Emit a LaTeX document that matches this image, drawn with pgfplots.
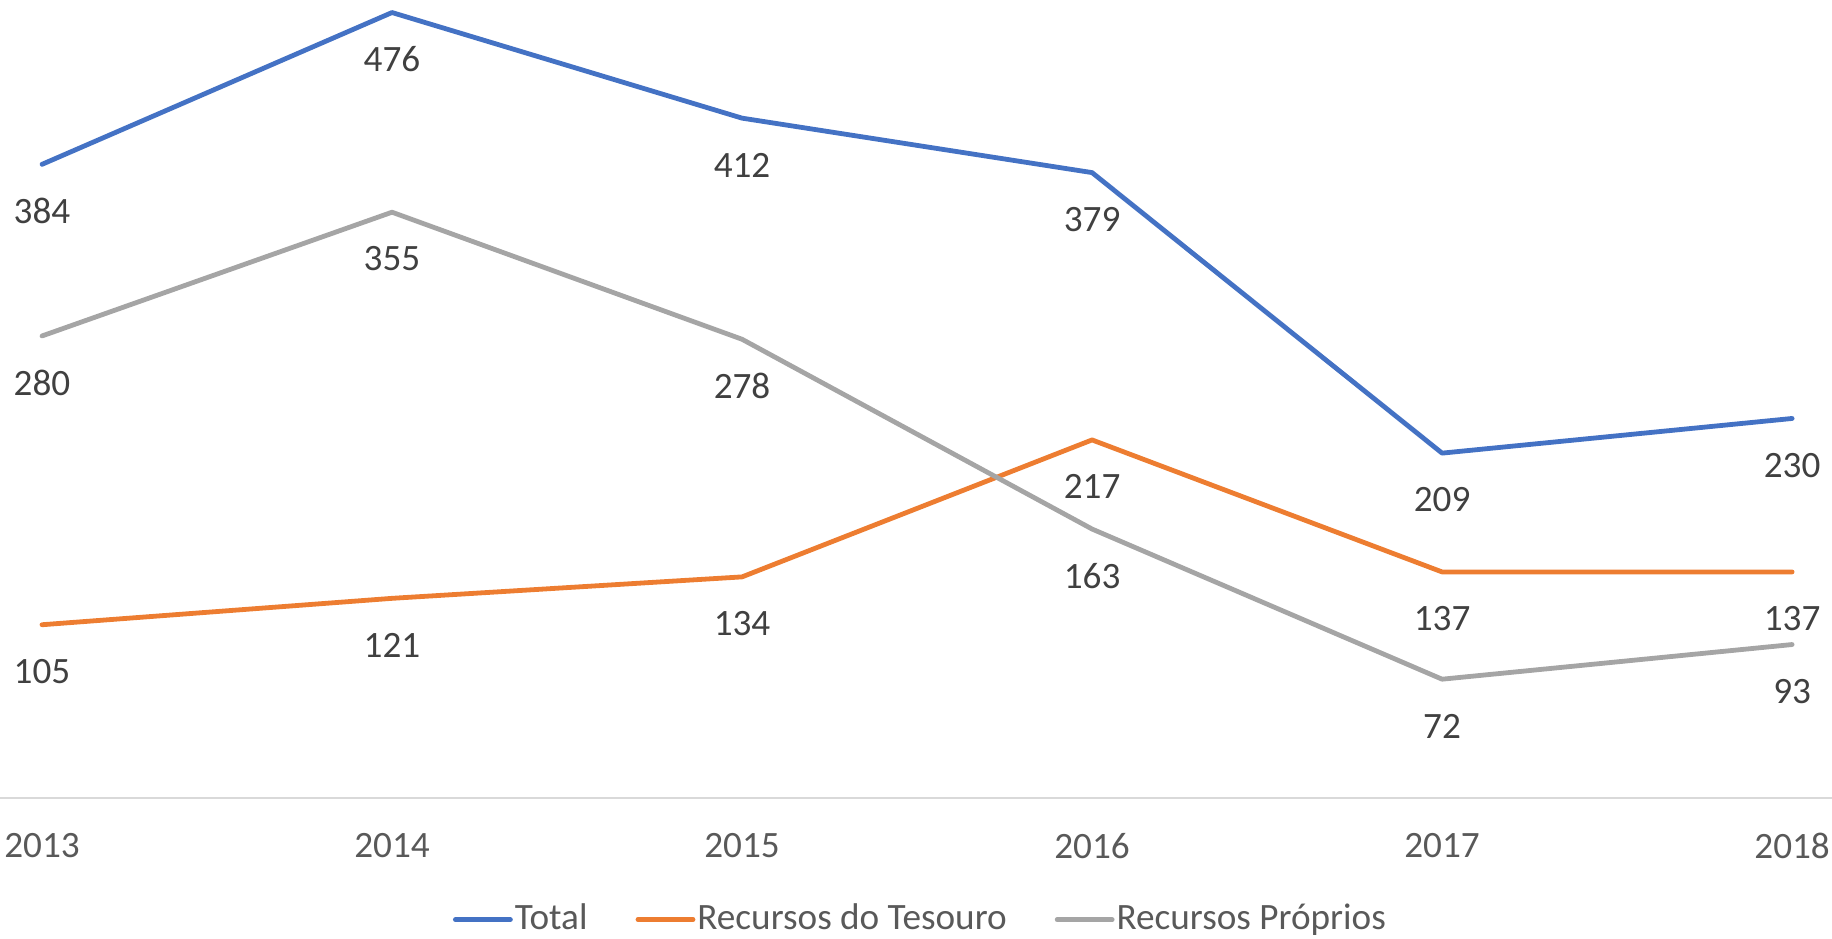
\documentclass[border=0pt]{standalone}
\usepackage{pgfplots}
\pgfplotsset{compat=1.18}
\usepackage{fontspec}
\setmainfont{Carlito}

\definecolor{cblue}{HTML}{4472C4}
\definecolor{corange}{HTML}{ED7D31}
\definecolor{cgray}{HTML}{A5A5A5}
\definecolor{axisgray}{HTML}{D9D9D9}
\definecolor{tickgray}{HTML}{595959}
\definecolor{labelgray}{HTML}{404040}

\begin{document}
\begin{tikzpicture}
\useasboundingbox (0,0) rectangle (458pt,-234.75pt);
\begin{axis}[
  at={(0,0)}, anchor=north west,
  scale only axis, width=458pt, height=199.5pt,
  xmin=2012.88, xmax=2018.114, ymin=0, ymax=483.6,
  axis x line=bottom, axis y line=none,
  x axis line style={-, draw=axisgray, line width=0.45pt},
  xtick={2013,2014,2015,2016,2017,2018},
  xticklabels={2013,2014,2015,2016,2017,2018},
  major tick length=0pt,
  xticklabel style={anchor=center, yshift=-11.9pt, text=tickgray, font=\fontsize{9.3}{11}\selectfont},
  every axis plot/.append style={line width=1.2pt, line cap=round, line join=round},
  /pgf/number format/assume math mode=true,
  nodes near coords,
  nodes near coords style={anchor=center, yshift=-11.7pt, text=labelgray, font=\fontsize{9.3}{11}\selectfont},
  clip=false,
  legend columns=3,
  legend style={at={(0.5024,-0.1525)}, anchor=center, draw=none, fill=none,
    font=\fontsize{9.3}{11}\selectfont, text=tickgray,
    nodes={inner sep=0.5pt},
    /tikz/every even column/.append style={column sep=11.5pt}},
  legend image code/.code={\draw[#1, mark=none, line width=1.2pt, line cap=round] (0pt,0pt) -- (13.75pt,0pt);},
]
\addplot[cblue] coordinates {(2013,384) (2014,476) (2015,412) (2016,379) (2017,209) (2018,230)};
\addlegendentry{Total}
\addplot[corange] coordinates {(2013,105) (2014,121) (2015,134) (2016,217) (2017,137) (2018,137)};
\addlegendentry{Recursos do Tesouro}
\addplot[cgray] coordinates {(2013,280) (2014,355) (2015,278) (2016,163) (2017,72) (2018,93)};
\addlegendentry{Recursos Próprios}
\end{axis}
\end{tikzpicture}
\end{document}
